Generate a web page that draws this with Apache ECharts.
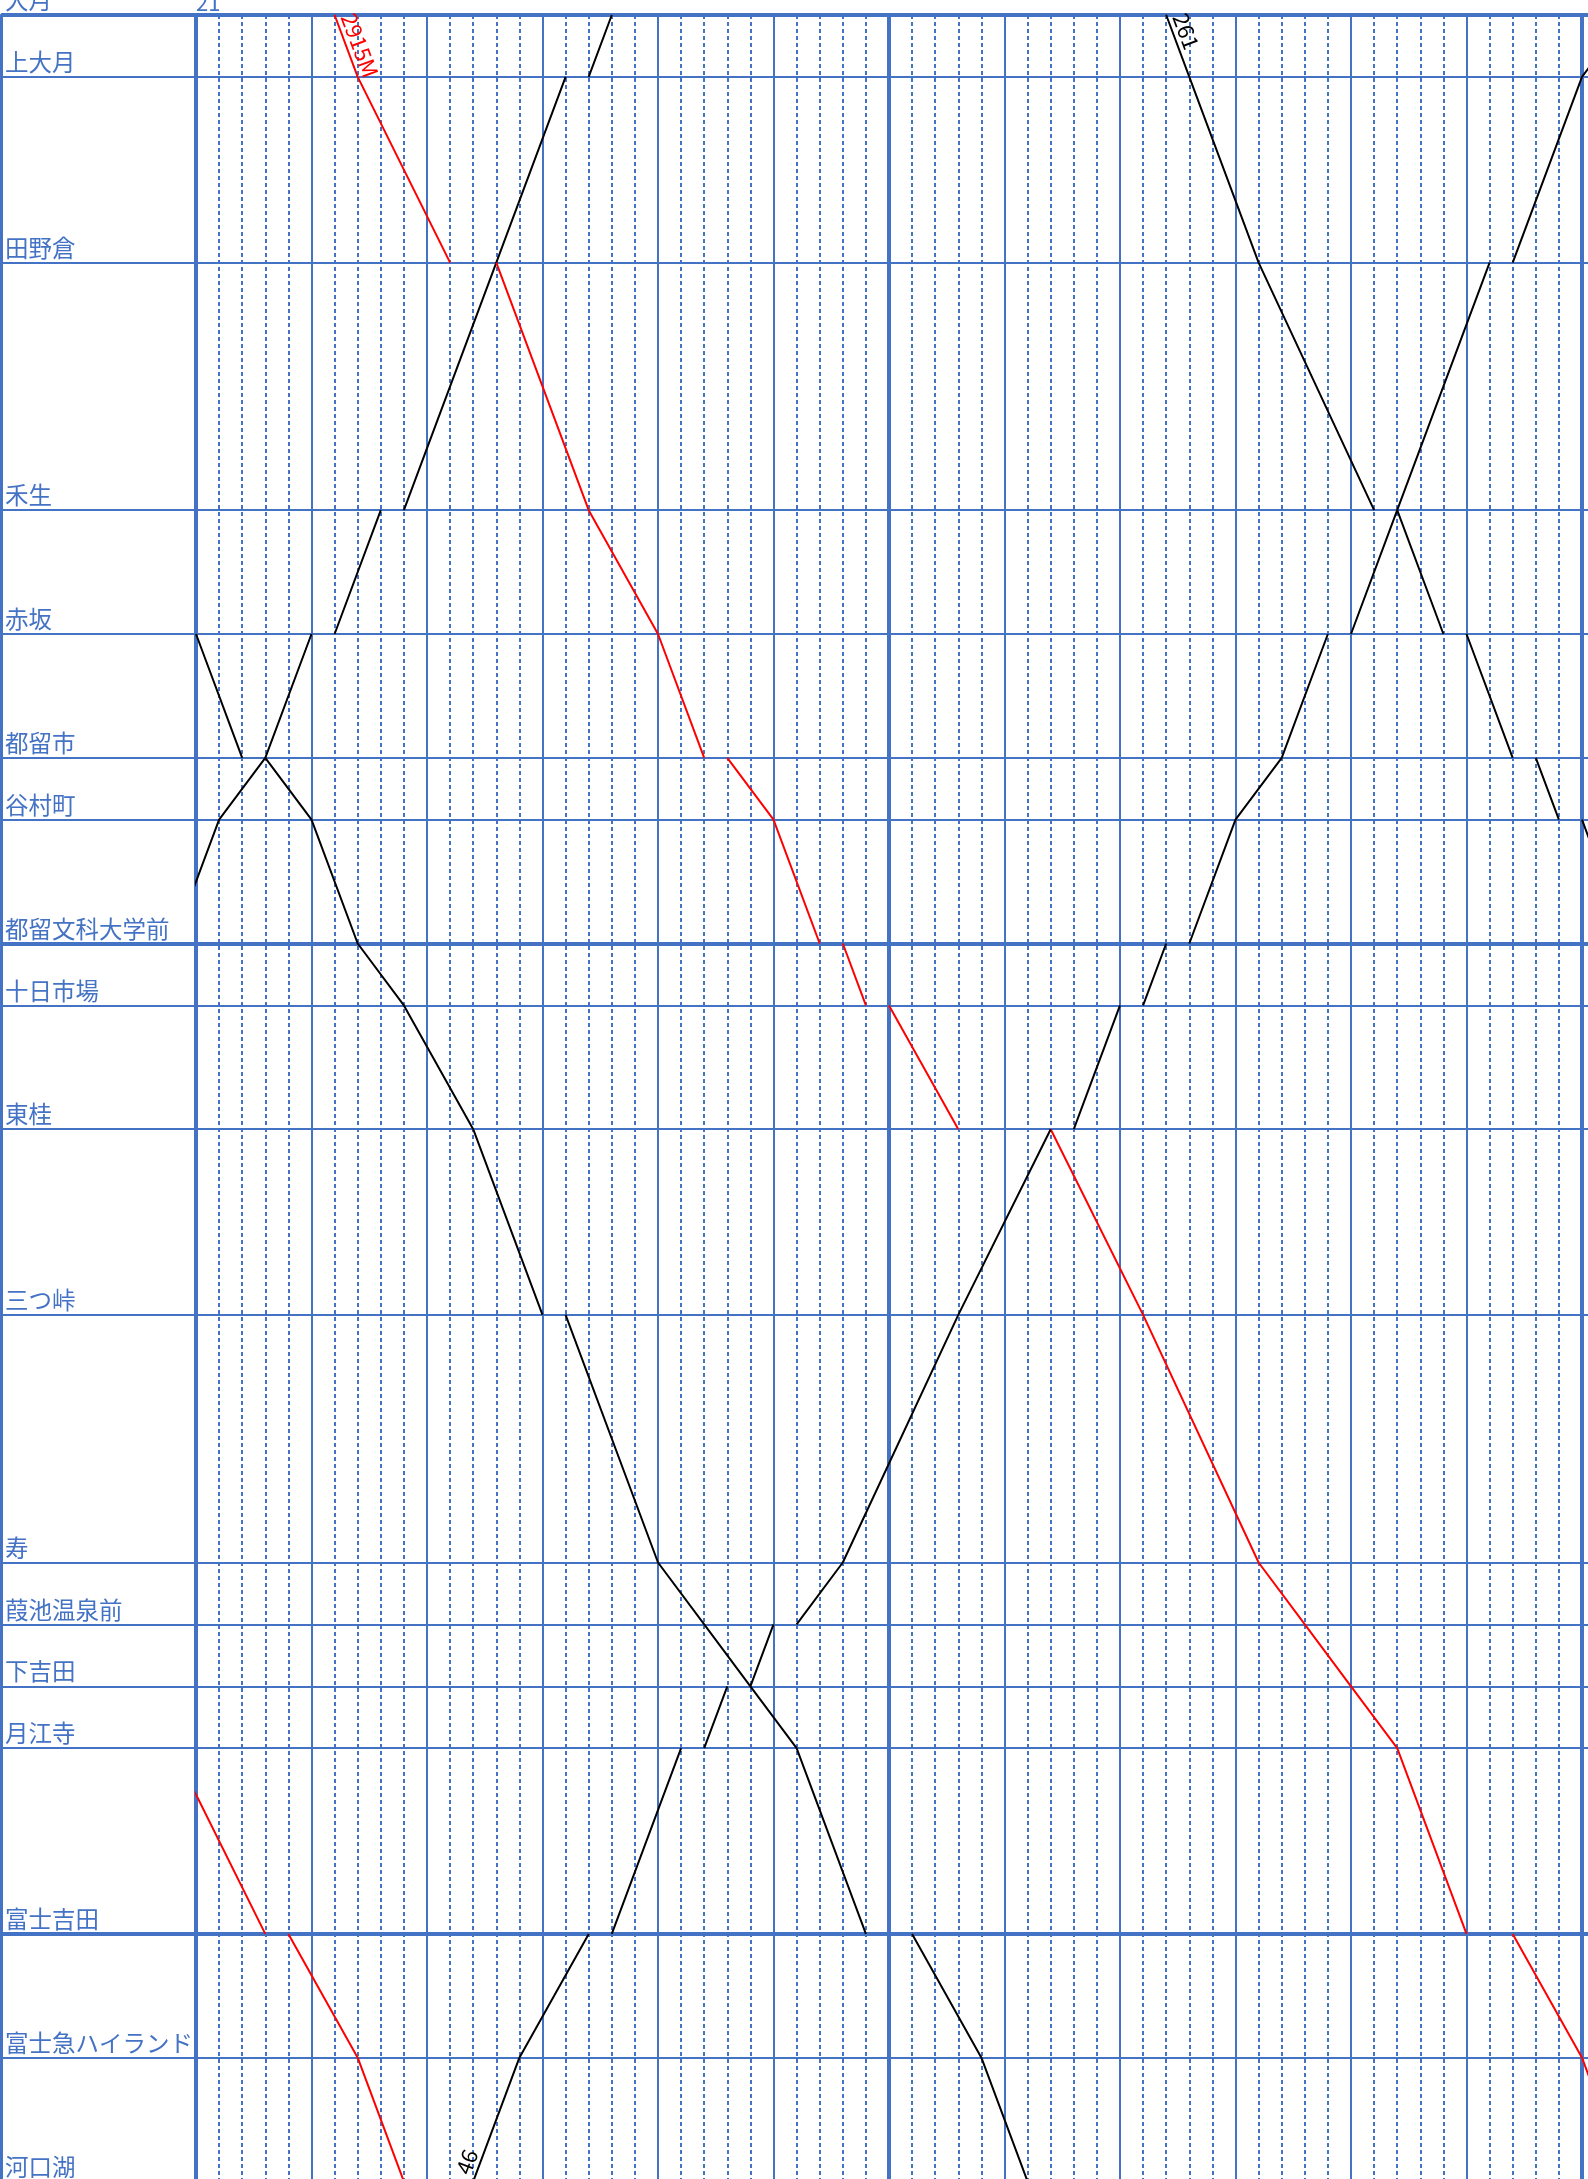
<!DOCTYPE html>
<html>
<head>
<meta charset="utf-8">
<script src="https://cdn.jsdelivr.net/npm/echarts@6/dist/echarts.min.js"></script>
<style>
html,body{margin:0;padding:0;background:#fff;overflow:hidden}
#chart{width:1588px;height:2179px}
</style>
</head>
<body>
<div id="chart"></div>
<script>
// ---- data ----
const stationNames = ['大月','上大月','田野倉','禾生','赤坂','都留市','谷村町','都留文科大学前','十日市場','東桂','三つ峠','寿','葭池温泉前','下吉田','月江寺','富士吉田','富士急ハイランド','河口湖'];
// station position on the time-distance axis (running-time units)
const stationPos = [0,1,4,8,10,12,13,15,16,18,21,25,26,27,28,31,33,35];
const majorStations = [0,7,15];
const hourLabels = ['21'];

// stops: [stationIndex, arrival, departure] in minutes after 21:00
const train2915M = [[0,6,6],[1,7,7],[2,11,13],[3,17,17],[4,20,20],[5,22,23],[6,25,25],[7,27,28],[8,29,30],[9,33,37],[10,41,41],[11,46,46],[12,48,48],[13,50,50],[14,52,52],[15,55,57],[16,60,60],[17,62,62]];
const train261 = [[0,42,42],[1,43,43],[2,46,46],[3,51,52],[4,54,55],[5,57,58],[6,59,60],[7,62,62]];
const train46 = [[17,12,12],[16,14,14],[15,17,18],[14,21,22],[13,23,24],[12,25,26],[11,28,28],[10,33,33],[9,37,38],[8,40,41],[7,42,43],[6,45,45],[5,47,47],[4,49,50],[3,52,52],[2,56,57],[1,60,60],[0,62,62]];
const trainDownEarly = [[4,0,0],[5,2,3],[6,5,5],[7,7,7],[8,9,9],[9,12,12],[10,15,16],[11,20,20],[12,22,22],[13,24,24],[14,26,26],[15,29,31],[16,34,34],[17,36,36]];
const trainUpEarly = [[7,-1,-1],[6,1,1],[5,3,3],[4,5,6],[3,8,9],[2,13,13],[1,16,17],[0,18,18]];
const trainRedEarly = [[14,-1,-1],[15,3,4],[16,7,7],[17,9,9]];

// ---- styles ----
const BLUE = '#4472C4';
const FONT = '"Noto Sans CJK JP", "Noto Sans", sans-serif';
const UNIT_PX = 61.9, MIN_PX = 23.1, X_MAX = 65, Y_MAX = 35;
const H = Y_MAX * UNIT_PX;

const trains = [
  {stops: trainRedEarly, color: '#FF0000'},
  {stops: trainDownEarly, color: '#000000'},
  {stops: trainUpEarly, color: '#000000'},
  {stops: train2915M, color: '#FF0000', name: '2915M', rotate: -69.5},
  {stops: train46, color: '#000000', name: '46', rotate: 69.5},
  {stops: train261, color: '#000000', name: '261', rotate: -69.5}
];

function buildData(t) {
  const out = [];
  const n = t.stops.length;
  t.stops.forEach((s, k) => {
    const [si, arr, dep] = s;
    const y = stationPos[si];
    if (k === 0) { out.push([dep, y]); return; }
    out.push([arr, y]);
    if (k < n - 1 && dep !== arr) { out.push(['-', '-']); out.push([dep, y]); }
  });
  if (t.name) {
    out[0] = {
      value: out[0], symbol: 'circle', symbolSize: 1,
      label: {
        show: true, formatter: t.name, position: 'inside', rotate: t.rotate,
        align: 'left', verticalAlign: 'bottom', offset: [4, -2],
        color: t.color, fontSize: 22, fontFamily: FONT
      }
    };
  }
  return out;
}

const series = [{
  type: 'line', xAxisIndex: 0, yAxisIndex: 0, data: [], silent: true, z: 1,
  markLine: {
    silent: true, symbol: ['none', 'none'], animation: false, z: 5,
    label: {show: false},
    lineStyle: {color: BLUE, type: 'solid', width: 2},
    data: stationPos.map((p, i) => ({yAxis: p, lineStyle: {color: BLUE, type: 'solid', width: majorStations.includes(i) ? 4 : 2}}))
  }
}];
trains.forEach(t => series.push({
  type: 'line', xAxisIndex: 2, yAxisIndex: 1, data: buildData(t),
  symbol: 'none', connectNulls: false, silent: true, z: 10,
  lineStyle: {color: t.color, width: 2}, itemStyle: {color: t.color},
  emphasis: {disabled: true}
}));

const chart = echarts.init(document.getElementById('chart'), null, {renderer: 'canvas'});
chart.setOption({
  animation: false,
  backgroundColor: '#fff',
  grid: [
    {left: 1, top: 15, width: 1640, height: H, outerBoundsMode: 'none', containLabel: false},
    {left: 196, top: 15, width: X_MAX * MIN_PX, height: H, outerBoundsMode: 'none', containLabel: false}
  ],
  xAxis: [
    {gridIndex: 0, type: 'value', min: 0, max: 1, show: false},
    {gridIndex: 1, type: 'value', min: 0, max: X_MAX, interval: 5, position: 'bottom',
     axisLine: {show: false}, axisTick: {show: false}, axisLabel: {show: false},
     splitLine: {show: true, lineStyle: {color: BLUE, width: 2, type: 'solid'}},
     minorTick: {show: false, splitNumber: 5},
     minorSplitLine: {show: true, lineStyle: {color: BLUE, width: 2, type: [4, 3]}}},
    {gridIndex: 1, type: 'value', min: 0, max: X_MAX, interval: 30, position: 'top',
     axisLine: {show: false}, axisTick: {show: false},
     axisLabel: {show: true, margin: 1, align: 'left', color: BLUE, fontSize: 22, fontFamily: FONT,
       formatter: v => (v === 0 ? hourLabels[0] : '')},
     splitLine: {show: true, lineStyle: {color: BLUE, width: 4, type: 'solid'}}}
  ],
  yAxis: [
    {gridIndex: 0, type: 'value', min: 0, max: Y_MAX, interval: 1, inverse: true,
     axisLine: {show: true, lineStyle: {color: BLUE, width: 3}}, axisTick: {show: false},
     splitLine: {show: false},
     axisLabel: {show: true, inside: true, margin: 4, align: 'left', verticalAlign: 'bottom',
       padding: [0, 0, 3, 0],
       color: BLUE, fontSize: 23.5, fontFamily: FONT,
       formatter: v => { const i = stationPos.indexOf(v); return i >= 0 ? stationNames[i] : ''; }}},
    {gridIndex: 1, type: 'value', min: 0, max: Y_MAX, interval: 1, inverse: true, show: false}
  ],
  series: series
});
</script>
</body>
</html>
